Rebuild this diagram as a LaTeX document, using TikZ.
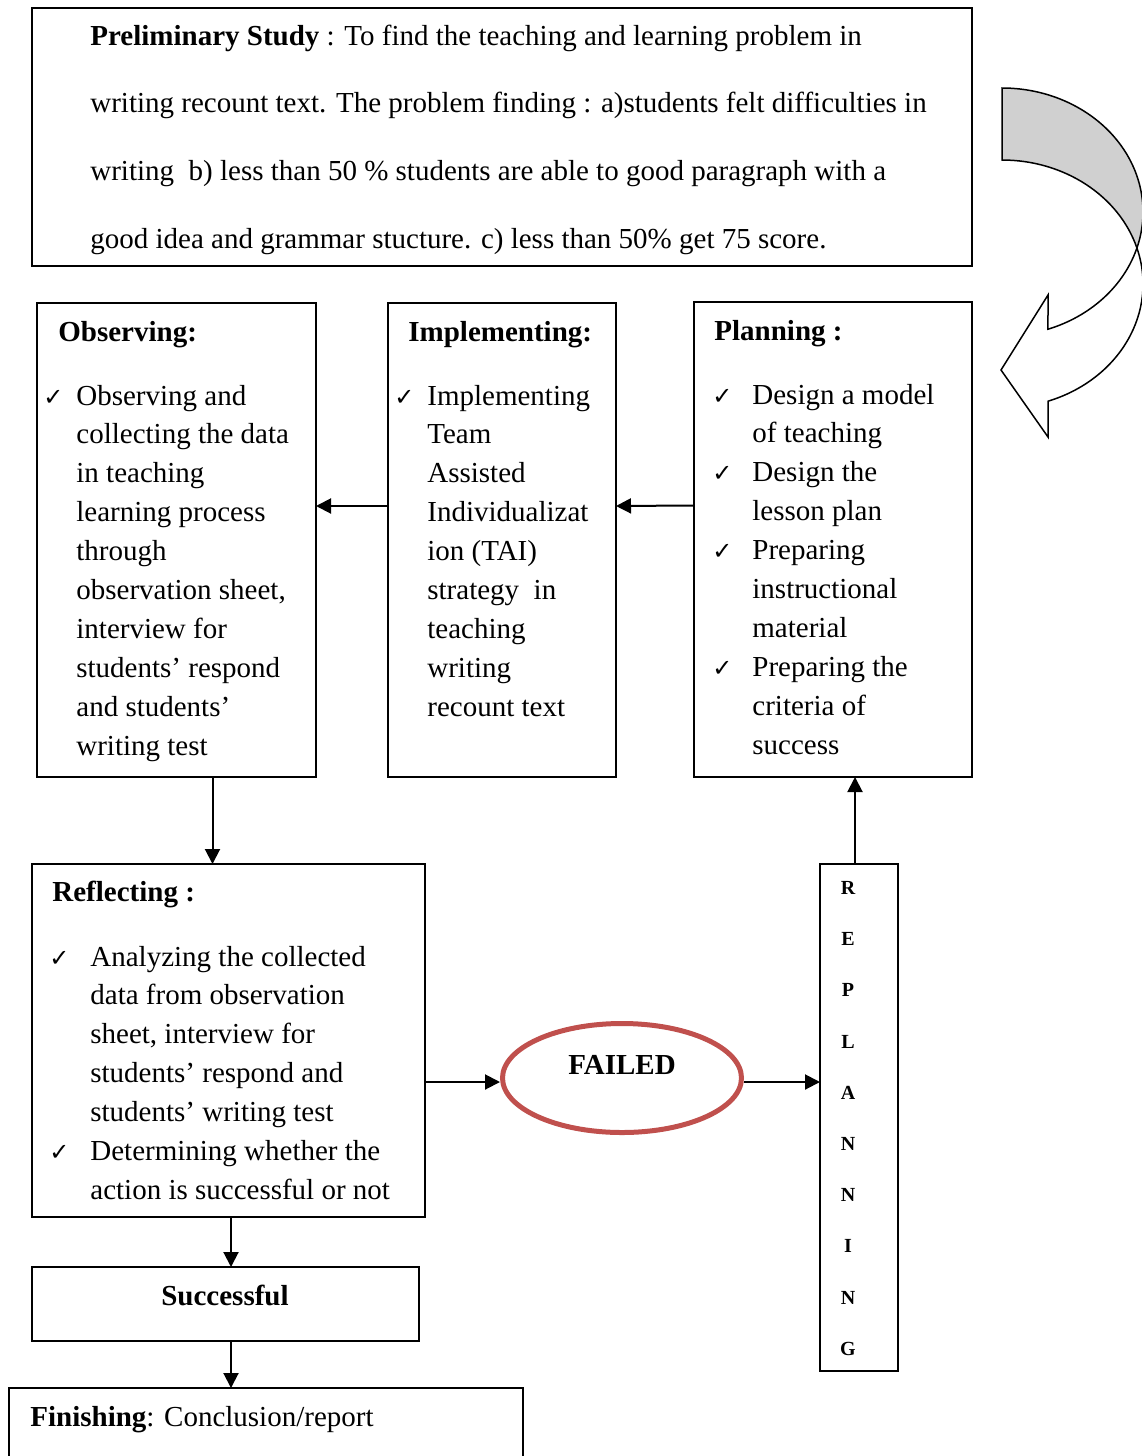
\documentclass[tikz,border=0pt]{standalone}
\usepackage{fontspec}
\setmainfont{Liberation Serif}
\newfontfamily\checkfont{DejaVu Sans}
\usetikzlibrary{arrows.meta, positioning, calc, shapes.geometric}
\definecolor{failred}{RGB}{192, 80, 77}
\definecolor{backgray}{RGB}{208, 208, 208}
\newcommand{\chkmark}{{\checkfont\fontsize{12}{14}\selectfont ✓}}

\begin{document}
\begin{tikzpicture}[
        x=0.5pt, y=-0.5pt,
        box/.style={draw, line width=1pt, anchor=north west, inner sep=0pt, outer sep=0pt},
        txt/.style={anchor=base west, inner sep=0pt, font=\fontsize{14.5}{17}\selectfont},
        head/.style={txt, font=\fontsize{14.5}{17}\selectfont\bfseries},
        letter/.style={anchor=base, inner sep=0pt, font=\fontsize{10}{12}\selectfont\bfseries},
        arrow/.style={-{Triangle[length=7.5pt, width=7.5pt]}, line width=1pt}
    ]
        \useasboundingbox (0,0) rectangle (1141,1456);

        % Preliminary study
        \node[box, minimum width=470pt, minimum height=129pt] (prelim) at (32,8) {};
        \foreach \ln [count=\i] in {
            {\textbf{Preliminary Study} : To find the teaching and learning problem in},
            {writing recount text. The problem finding : a)students felt difficulties in},
            {writing\ \ b) less than 50 \% students are able to good paragraph with a},
            {good idea and grammar stucture. c) less than 50\% get 75 score.}}
            \node[txt] (prelim-\i) at (90, {45+67.7*(\i-1)}) {\ln};

        % Curved arrow
        \draw[fill=backgray, line width=0.75pt] (1002,88)
            arc[start angle=90, end angle=-16.88, x radius=70.5pt, y radius=62pt]
            arc[start angle=16.88, end angle=90, x radius=70.5pt, y radius=62pt] -- cycle;
        \draw[fill=white, line width=0.75pt] (1136.9,248)
            arc[start angle=-16.88, end angle=-70.96, x radius=70.5pt, y radius=62pt]
            -- (1048,295) -- (1001,370) -- (1048,437) -- (1048,401.2)
            arc[start angle=-70.96, end angle=16.88, x radius=70.5pt, y radius=62pt] -- cycle;

        % Cycle boxes
        \node[box, minimum width=139.5pt, minimum height=237pt] (obs) at (37,303) {};
        \node[box, minimum width=114pt, minimum height=237pt] (impl) at (388,303) {};
        \node[box, minimum width=139pt, minimum height=237.5pt] (plan) at (694,302) {};

        \node[head] (obs-h) at (58,341) {Observing:};
        \node[txt] (obs-c) at (43,405) {\chkmark};
        \foreach \ln [count=\i] in {Observing and, collecting the data, in teaching,
            learning process, through, {observation sheet,}, interview for,
            students’ respond, and students’, writing test}
            \node[txt] (obs-\i) at (76, {405+38.9*(\i-1)}) {\ln};

        \node[head] (impl-h) at (408,341) {Implementing:};
        \node[txt] (impl-c) at (394,405) {\chkmark};
        \foreach \ln [count=\i] in {Implementing, Team, Assisted, Individualizat,
            ion (TAI), strategy\ \ in, teaching, writing, recount text}
            \node[txt] (impl-\i) at (427, {405+38.9*(\i-1)}) {\ln};

        \node[head] (plan-h) at (714,340) {Planning :};
        \foreach \j in {1,3,5,8}
            \node[txt] (plan-c\j) at (712, {404+38.9*(\j-1)}) {\chkmark};
        \foreach \ln [count=\i] in {Design a model, of teaching, Design the, lesson plan,
            Preparing, instructional, material, Preparing the, criteria of, success}
            \node[txt] (plan-\i) at (752, {404+38.9*(\i-1)}) {\ln};

        % Reflecting
        \node[box, minimum width=196.5pt, minimum height=176.5pt] (refl) at (32,864) {};
        \node[head] (refl-h) at (52,901) {Reflecting :};
        \foreach \j in {1,6}
            \node[txt] (refl-c\j) at (49, {966+38.9*(\j-1)}) {\chkmark};
        \foreach \ln [count=\i] in {Analyzing the collected, data from observation,
            {sheet, interview for}, students’ respond and, students’ writing test,
            Determining whether the, action is successful or not}
            \node[txt] (refl-\i) at (90, {966+38.9*(\i-1)}) {\ln};

        % Failed
        \node[draw=failred, line width=2.5pt, ellipse, minimum width=119.5pt, minimum height=54.5pt] (failed) at (622,1078) {};
        \node[head, anchor=base] (failed-t) at (622,1074) {FAILED};

        % Replanning
        \node[box, minimum width=39pt, minimum height=253.5pt] (replan) at (820,864) {};
        \foreach \c [count=\i] in {R,E,P,L,A,N,N,I,N,G}
            \node[letter] (replan-\i) at (848, {894.5+51.2*(\i-1)}) {\c};

        % Successful and finishing
        \node[box, minimum width=193.5pt, minimum height=37pt] (succ) at (32,1267) {};
        \node[head, anchor=base] (succ-t) at (225,1305) {Successful};
        \node[box, minimum width=257pt, minimum height=60pt] (finish) at (9,1388) {};
        \node[txt] (finish-t) at (30,1426) {\textbf{Finishing}: Conclusion/report};

        % Arrows
        \draw[arrow] ([yshift=17pt]plan.west) -- ([yshift=17pt]impl.east);
        \draw[arrow] ([yshift=17pt]impl.west) -- ([yshift=17pt]obs.west -| obs.east);
        \draw[arrow] ([xshift=18pt]obs.south) -- ([xshift=18pt]obs.south |- refl.north);
        \draw[arrow] ([yshift=-2pt]refl.east |- failed.west) -- ([yshift=-2pt]failed.west);
        \draw[arrow] ([yshift=-2pt]failed.east) -- ([yshift=-2pt]failed.east -| replan.west);
        \draw[arrow] ([xshift=-2pt]replan.north) -- ([xshift=-2pt]replan.north |- plan.south);
        \draw[arrow] ([xshift=1.25pt]refl.south) -- ([xshift=1.25pt]refl.south |- succ.north);
        \draw[arrow] ([xshift=1.25pt]refl.south |- succ.south) -- ([xshift=1.25pt]refl.south |- finish.north);
    \end{tikzpicture}
\end{document}
